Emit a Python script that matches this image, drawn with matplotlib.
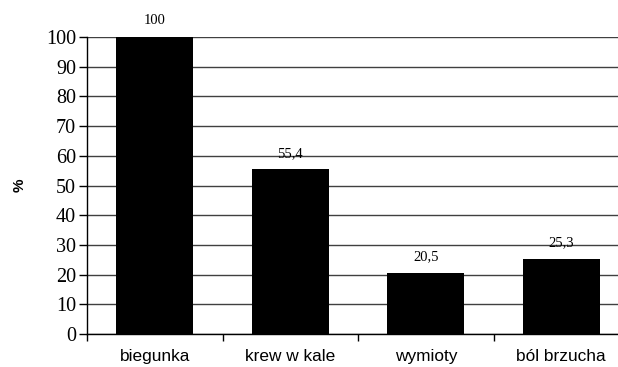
import matplotlib.pyplot as plt
import numpy as np

categories = ['biegunka', 'krew w kale', 'wymioty', 'ból brzucha']
values = [100, 55.4, 20.5, 25.3]
value_labels = ['100', '55,4', '20,5', '25,3']
y_ticks = list(range(0, 101, 10))

fig = plt.figure(figsize=(6.18, 3.67), dpi=100)
# axes run slightly past the right edge of the figure
ax = fig.add_axes([0.1408, 0.0899, 0.8770, 0.8093])

x = np.arange(len(categories))
ax.bar(x, values, width=0.57, color='black', zorder=3)

for xi, v, lab in zip(x, values, value_labels):
    ax.annotate(lab, (xi, v), xytext=(0, 7), textcoords='offset points',
                ha='center', va='bottom', fontsize=10.5,
                family='Liberation Serif')

ax.set_xlim(-0.5, len(categories) - 0.5)
ax.set_ylim(0, 100)
ax.set_yticks(y_ticks)
ax.set_yticklabels([str(t) for t in y_ticks], family='Liberation Serif',
                   fontsize=14.5)
ax.yaxis.grid(True, color='#404040', linewidth=1.0, zorder=0)
ax.set_axisbelow(True)

# category labels centred under bars, ticks on category boundaries
ax.set_xticks(x)
ax.set_xticklabels(categories, family='Liberation Sans', fontsize=12.4)
ax.tick_params(axis='x', length=0, pad=11)
ax.set_xticks(np.arange(len(categories) + 1) - 0.5, minor=True)
ax.tick_params(axis='x', which='minor', length=5, width=1, direction='out')
ax.tick_params(axis='y', length=6, width=1, direction='out', pad=2)

for side in ['top', 'right']:
    ax.spines[side].set_visible(False)
ax.spines['left'].set_linewidth(1.0)
ax.spines['bottom'].set_linewidth(1.0)

ax.set_ylabel('%', family='Liberation Sans', fontweight='bold', fontsize=11,
              labelpad=14)

fig.savefig('out.png', dpi=100)
